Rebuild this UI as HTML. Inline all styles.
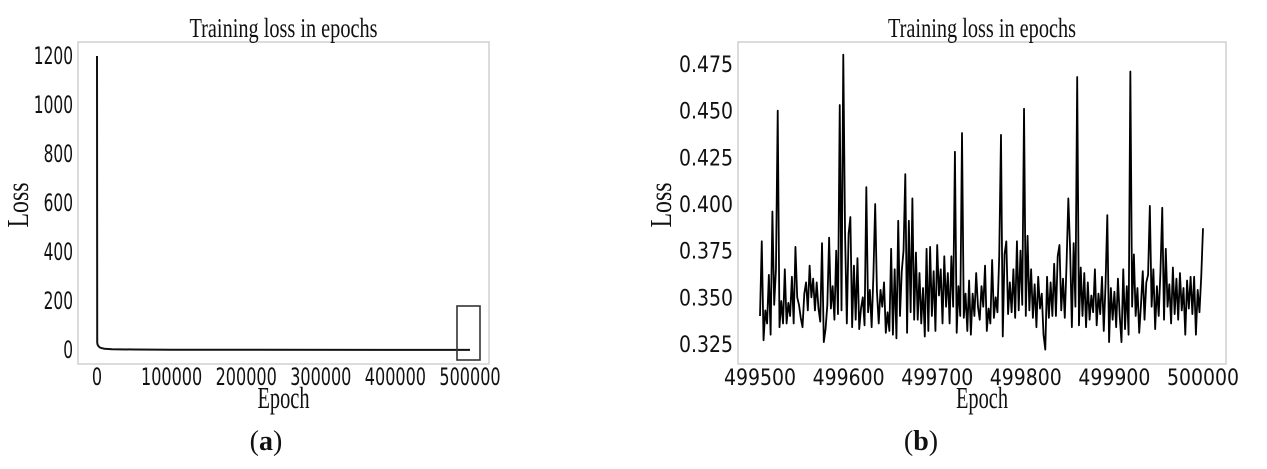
<!DOCTYPE html>
<html><head><meta charset="utf-8"><style>
body{margin:0;background:#fff;}
svg{display:block;}
text{fill:#111;}
.tk{font-family:"DejaVu Sans","Liberation Sans",sans-serif;}
.sr{font-family:"Liberation Serif",serif;}
</style></head><body>
<svg id="fig" width="1267" height="469" viewBox="0 0 1267 469">
<g id="chartA"></g>
<g id="chartB"></g>
<text x="266" y="450" text-anchor="middle" class="sr" font-size="28">(<tspan font-weight="bold">a</tspan>)</text>
<text x="921" y="450" text-anchor="middle" class="sr" font-size="28">(<tspan font-weight="bold">b</tspan>)</text>
</svg>
<script>
// ---- Chart A data ----
const aEpochs = [0, 300, 800, 1500, 2500, 4000, 6000, 10000, 20000, 50000, 100000, 500000];
const aLoss = [1200, 30, 22, 18, 14, 10, 8, 5, 3, 2, 1, 0.35];
const aYTicks = [0, 200, 400, 600, 800, 1000, 1200];
const aXTicks = [0, 100000, 200000, 300000, 400000, 500000];
// ---- Chart B data ----
const bStart = 499500;
const bStep = 2;
const bLoss = [
.340,.380,.327,.343,.336,.362,.330,.396,.346,.365,.450,.334,.348,.336,.365,.336,.347,.340,.361,.336,
.377,.350,.346,.339,.334,.352,.358,.343,.367,.350,.360,.343,.358,.344,.337,.379,.326,.333,.346,.382,
.344,.356,.338,.375,.341,.453,.343,.480,.384,.336,.384,.393,.334,.367,.338,.371,.333,.344,.350,.335,
.409,.342,.354,.334,.362,.400,.353,.336,.354,.345,.358,.331,.342,.332,.376,.330,.365,.328,.391,.340,
.364,.375,.416,.331,.391,.342,.403,.338,.374,.338,.363,.336,.355,.329,.376,.332,.377,.340,.364,.332,
.378,.351,.365,.336,.372,.345,.363,.336,.372,.345,.428,.331,.356,.340,.438,.339,.352,.332,.359,.330,
.352,.340,.363,.345,.338,.356,.345,.367,.332,.344,.336,.370,.339,.350,.342,.372,.437,.329,.373,.380,
.341,.358,.342,.365,.339,.380,.343,.375,.346,.451,.340,.383,.343,.365,.339,.357,.334,.361,.344,.352,
.330,.322,.361,.339,.358,.340,.368,.340,.372,.378,.343,.360,.339,.368,.403,.376,.334,.379,.345,.468,
.335,.366,.340,.363,.334,.358,.338,.351,.342,.365,.335,.352,.341,.361,.332,.357,.394,.326,.355,.338,
.353,.334,.360,.340,.326,.365,.333,.356,.330,.471,.345,.373,.340,.355,.331,.346,.364,.338,.358,.362,
.399,.345,.365,.333,.356,.340,.364,.398,.338,.376,.345,.357,.336,.366,.341,.360,.338,.363,.343,.355,
.330,.359,.344,.361,.341,.361,.330,.354,.342,.361,.387];
const bYTicks = [0.325, 0.350, 0.375, 0.400, 0.425, 0.450, 0.475];
const bXTicks = [499500, 499600, 499700, 499800, 499900, 500000];

const NS = "http://www.w3.org/2000/svg";
function mk(parent, tag, attrs, txt){
  const e = document.createElementNS(NS, tag);
  for (const k in attrs) e.setAttribute(k, attrs[k]);
  if (txt !== undefined) e.textContent = txt;
  parent.appendChild(e);
  return e;
}

function drawChart(g, opt){
  const fr = mk(g, "rect", {x:opt.fx0, y:42, width:opt.fx1-opt.fx0, height:322, fill:"none", stroke:"#c8c8c8", "stroke-width":1.3});
  
  
  const t = mk(g, "text", {x:(opt.fx0+opt.fx1)/2, y:37, "text-anchor":"middle", class:"sr", "font-size":27, textLength:188, lengthAdjust:"spacingAndGlyphs"}, "Training loss in epochs");
  
  
  opt.yTicks.forEach(v=>{
    const tl = mk(g, "text", {x:opt.yLabX, y:opt.ys(v)+8, "text-anchor":"end", class:"tk", "font-size":opt.fs, textLength:opt.yLen(v), lengthAdjust:"spacingAndGlyphs"}, opt.yFmt(v));
    
    
  });
  opt.xTicks.forEach(v=>{
    const tl = mk(g, "text", {x:opt.xs(v), y:385, "text-anchor":"middle", class:"tk", "font-size":opt.fs, textLength:opt.xLen(v), lengthAdjust:"spacingAndGlyphs"}, String(v));
    
    
  });
  const xl = mk(g, "text", {x:(opt.fx0+opt.fx1)/2, y:408, "text-anchor":"middle", class:"sr", "font-size":31, textLength:52, lengthAdjust:"spacingAndGlyphs"}, "Epoch");
  
  
  const yl = mk(g, "text", {x:0, y:0, transform:"translate("+(opt.yTitleX)+",205) rotate(-90)", "text-anchor":"middle", class:"sr", "font-size":31, textLength:45, lengthAdjust:"spacingAndGlyphs"}, "Loss");
  
  
}

// Chart A
const axs = v => 97 + v/500000*(470-97);
const ays = v => 350 - v/1200*(350-56);
const gA = document.getElementById("chartA");
drawChart(gA, {fx0:78, fx1:489, xs:axs, ys:ays, yTicks:aYTicks, xTicks:aXTicks, yLabX:73, yTitleX:28, fs:24,
  yFmt:v=>String(v), yLen:v=>String(v).length*9.8, xLen:v=>String(v).length*10.2});
let dA = "";
aEpochs.forEach((e,i)=>{ dA += (i?"L":"M") + axs(e).toFixed(2) + "," + ays(aLoss[i]).toFixed(2); });
const lineA = mk(gA, "path", {d:dA, fill:"none", stroke:"#111", "stroke-width":2});


const zb = mk(gA, "rect", {x:457, y:306, width:23, height:54, fill:"none", stroke:"#333", "stroke-width":1.6});



// Chart B
const bxs = v => 760 + (v-499500)/500*(1203-760);
const bys = v => 344 - (v-0.325)/0.15*(344-64);
const gB = document.getElementById("chartB");
drawChart(gB, {fx0:738, fx1:1226, xs:bxs, ys:bys, yTicks:bYTicks, xTicks:bXTicks, yLabX:733, yTitleX:671, fs:22,
  yFmt:v=>v.toFixed(3), yLen:v=>54, xLen:v=>72});
let dB = "";
bLoss.forEach((v,i)=>{ dB += (i?"L":"M") + bxs(bStart + i*bStep).toFixed(2) + "," + bys(v).toFixed(2); });
const lineB = mk(gB, "path", {d:dB, fill:"none", stroke:"#000", "stroke-width":1.8, "stroke-linejoin":"round"});


</script>
</body></html>
